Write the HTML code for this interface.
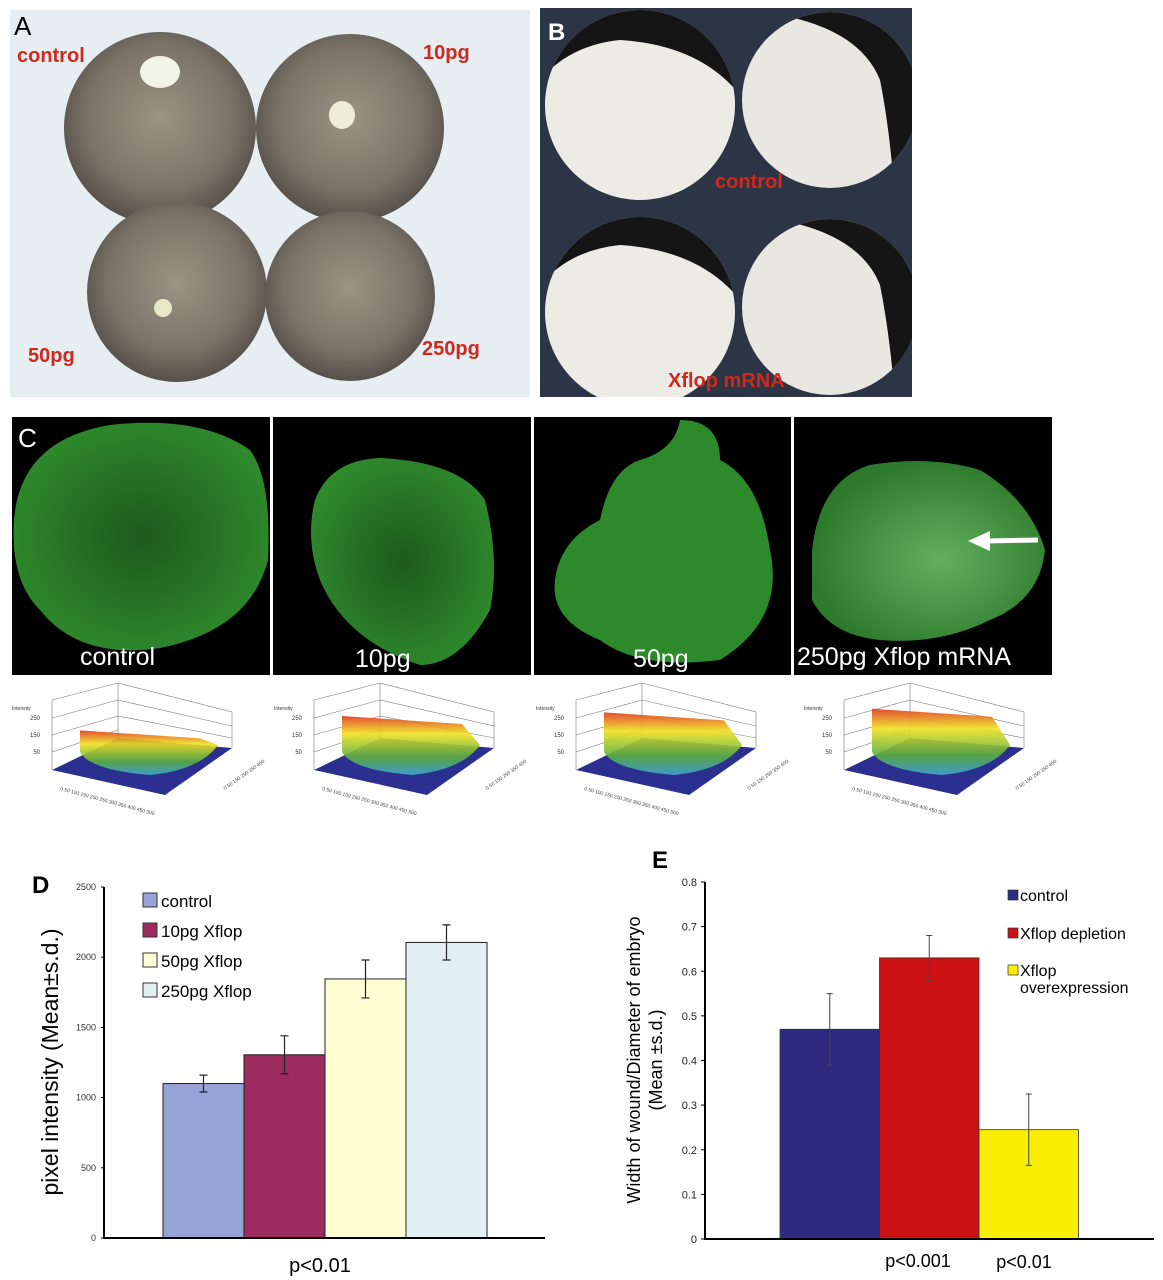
<!DOCTYPE html>
<html><head><meta charset="utf-8"><style>
html,body{margin:0;padding:0;background:#fff;}
svg{display:block;font-family:"Liberation Sans",sans-serif;}
</style></head><body>
<svg id="fig" width="1163" height="1280" viewBox="0 0 1163 1280">
<defs>
<radialGradient id="emb" cx="50%" cy="45%" r="55%"><stop offset="0" stop-color="#9a9486"/><stop offset="0.7" stop-color="#7a7266"/><stop offset="1" stop-color="#55504a"/></radialGradient>
<radialGradient id="gr1" cx="50%" cy="50%" r="55%"><stop offset="0" stop-color="#1c5a1c"/><stop offset="1" stop-color="#2f8a2c"/></radialGradient>
<radialGradient id="gr4" cx="55%" cy="55%" r="55%"><stop offset="0" stop-color="#62b05e"/><stop offset="1" stop-color="#2e7a2c"/></radialGradient>
<linearGradient id="surf" x1="0" y1="0" x2="0" y2="1"><stop offset="0" stop-color="#e03a1a"/><stop offset="0.3" stop-color="#f0e020"/><stop offset="0.7" stop-color="#5ab040"/><stop offset="1" stop-color="#40a8d0"/></linearGradient>
<clipPath id="clipB"><rect x="540" y="8" width="372" height="389"/></clipPath>
<clipPath id="cb1"><circle cx="640" cy="105" r="95"/></clipPath>
<clipPath id="cb2"><circle cx="830" cy="100" r="88"/></clipPath>
<clipPath id="cb3"><circle cx="640" cy="312" r="95"/></clipPath>
<clipPath id="cb4"><circle cx="830" cy="307" r="88"/></clipPath>
</defs>

<!-- Panel A -->
<g>
<rect x="10" y="10" width="520" height="387" fill="#e7eef2"/>
<circle cx="160" cy="128" r="96" fill="url(#emb)"/>
<circle cx="350" cy="128" r="94" fill="url(#emb)"/>
<circle cx="177" cy="292" r="90" fill="url(#emb)"/>
<circle cx="350" cy="296" r="85" fill="url(#emb)"/>
<ellipse cx="160" cy="72" rx="20" ry="16" fill="#f2f4e8"/>
<ellipse cx="342" cy="115" rx="13" ry="14" fill="#eeeed8"/>
<ellipse cx="163" cy="308" rx="9" ry="9" fill="#e6e8c8"/>
<text x="14" y="35" font-size="26" fill="#000">A</text>
<g font-size="20" font-weight="bold" fill="#d0281c">
<text x="17" y="62">control</text>
<text x="423" y="59">10pg</text>
<text x="28" y="362">50pg</text>
<text x="422" y="355">250pg</text>
</g></g>

<!-- Panel B -->
<g>
<rect x="540" y="8" width="372" height="389" fill="#2c3545"/>
<g clip-path="url(#clipB)">
<circle cx="640" cy="105" r="95" fill="#ecebe6"/>
<path clip-path="url(#cb1)" d="M540 0 H740 V95 Q700 45 620 40 Q570 45 540 80Z" fill="#151515"/>
<circle cx="830" cy="100" r="88" fill="#e8e7e2"/>
<path clip-path="url(#cb2)" d="M760 0 H920 V200 H895 Q890 130 880 80 Q860 30 780 15Z" fill="#151515"/>
<circle cx="640" cy="312" r="95" fill="#ecebe6"/>
<path clip-path="url(#cb3)" d="M540 200 H740 V300 Q700 250 620 245 Q570 250 540 285Z" fill="#151515"/>
<circle cx="830" cy="307" r="88" fill="#e8e7e2"/>
<path clip-path="url(#cb4)" d="M760 200 H920 V400 H895 Q890 335 880 285 Q860 235 780 220Z" fill="#151515"/>
</g>
<text x="548" y="40" font-size="24" font-weight="bold" fill="#fff">B</text>
<text x="715" y="188" font-size="20" font-weight="bold" fill="#d0281c">control</text>
<text x="668" y="387" font-size="20" font-weight="bold" fill="#d0281c">Xflop mRNA</text>
</g>

<!-- Panel C -->
<g>
<rect x="12" y="417" width="258" height="258" fill="#000"/>
<rect x="273" y="417" width="258" height="258" fill="#000"/>
<rect x="534" y="417" width="257" height="258" fill="#000"/>
<rect x="794" y="417" width="258" height="258" fill="#000"/>
<path d="M14 520 Q20 440 110 425 Q200 415 250 450 Q272 480 268 560 Q250 630 160 648 Q80 660 40 610 Q10 580 14 520Z" fill="url(#gr1)"/>
<path d="M315 500 Q330 460 380 458 Q460 462 485 500 Q500 560 490 610 Q460 665 420 665 Q345 640 320 580 Q305 540 315 500Z" fill="url(#gr1)"/>
<path d="M555 580 Q560 540 600 520 Q610 470 640 460 Q675 450 680 420 Q720 420 720 460 Q760 480 770 550 Q785 620 720 660 Q640 670 600 640 Q550 620 555 580Z" fill="#2c8a2a"/>
<path d="M812 550 Q820 480 870 465 Q930 455 980 470 Q1030 500 1045 550 Q1040 600 990 620 Q940 645 880 640 Q830 635 812 600Z" fill="url(#gr4)"/>
<line x1="1038" y1="540" x2="985" y2="541" stroke="#fff" stroke-width="5"/>
<polygon points="968,541 990,531 990,551" fill="#fff"/>
<text x="18" y="447" font-size="26" fill="#fff">C</text>
<g font-size="25" fill="#fff">
<text x="80" y="665">control</text>
<text x="355" y="667">10pg</text>
<text x="633" y="667">50pg</text>
<text x="797" y="665">250pg Xflop mRNA</text>
</g></g>

<g id="surfaces"></g>

<!-- Panel D -->
<g id="chartD">
<text x="32" y="893" font-size="24" font-weight="bold">D</text>
<text transform="translate(58,1062) rotate(-90)" font-size="23" text-anchor="middle">pixel intensity (Mean±s.d.)</text>
<text x="320" y="1272" font-size="20" text-anchor="middle">p&lt;0.01</text>
</g>
<!-- Panel E -->
<g id="chartE">
<text x="652" y="868" font-size="24" font-weight="bold">E</text>
<text transform="translate(640,1060) rotate(-90)" font-size="18" text-anchor="middle">Width of wound/Diameter of embryo</text>
<text transform="translate(662,1060) rotate(-90)" font-size="18" text-anchor="middle">(Mean ±s.d.)</text>
<text x="918" y="1267" font-size="18" text-anchor="middle">p&lt;0.001</text>
<text x="1024" y="1268" font-size="18" text-anchor="middle">p&lt;0.01</text>
</g>
</svg>
<script>
var NS='http://www.w3.org/2000/svg';
var dCategories=['control','10pg Xflop','50pg Xflop','250pg Xflop'];
var dValues=[1100,1305,1845,2105];
var dErrors=[60,135,135,125];
var dTicks=[0,500,1000,1500,2000,2500];
var dColors=['#97a3d6','#9c2b5f','#ffffd4','#e2f0f2'];
var eCategories=['control','Xflop depletion','Xflop overexpression'];
var eValues=[0.47,0.63,0.245];
var eErrors=[0.08,0.05,0.08];
var eTicks=[0,0.1,0.2,0.3,0.4,0.5,0.6,0.7,0.8];
var eColors=['#2e2a80','#cc1114','#f8ee00'];
var surfPeaks=[0.55,0.75,0.8,0.85];

function mk(tag,attrs,parent){var e=document.createElementNS(NS,tag);for(var k in attrs)e.setAttribute(k,attrs[k]);parent.appendChild(e);return e;}

// Chart D
(function(){
var g=document.getElementById('chartD');
var x0=104,x1=545,yb=1238,yt=887,max=2500;
function ys(v){return yb-(v/max)*(yb-yt);}
var bx0=163,bw=81;
function xs(i){return bx0+i*bw;}
dTicks.forEach(function(t){
 var tx=mk('text',{x:x0-8,y:ys(t)+3,'font-size':9,'text-anchor':'end',fill:'#333'},g);tx.textContent=t;
 
 
});
dValues.forEach(function(v,i){
 var r=mk('rect',{x:xs(i),y:ys(v),width:bw,height:yb-ys(v),fill:dColors[i],stroke:'#222','stroke-width':1},g);
 
 
 var cx=xs(i)+bw/2;
 var eb=mk('path',{d:'M'+cx+' '+ys(v+dErrors[i])+'V'+ys(v-dErrors[i])+'M'+(cx-4)+' '+ys(v+dErrors[i])+'h8M'+(cx-4)+' '+ys(v-dErrors[i])+'h8',stroke:'#222','stroke-width':1.2,fill:'none'},g);
 
 
 var ly=893+i*30;
 var sq=mk('rect',{x:143,y:ly,width:14,height:14,fill:dColors[i],stroke:'#333'},g);
 
 
 var lt=mk('text',{x:161,y:ly+14,'font-size':17},g);lt.textContent=dCategories[i];
 
 
});
var ax=mk('path',{d:'M'+x0+' '+yt+'V'+yb+'H'+x1,stroke:'#000','stroke-width':2,fill:'none'},g);


dTicks.forEach(function(t){mk('line',{x1:x0-3,x2:x0,y1:ys(t),y2:ys(t),stroke:'#000'},g);});
})();

// Chart E
(function(){
var g=document.getElementById('chartE');
var x0=705,x1=1154,yb=1239,yt=882,max=0.8;
function ys(v){return yb-(v/max)*(yb-yt);}
var bx0=780,bw=99.5;
function xs(i){return bx0+i*bw;}
eTicks.forEach(function(t){
 var tx=mk('text',{x:x0-8,y:ys(t)+4,'font-size':11,'text-anchor':'end',fill:'#222'},g);tx.textContent=(t===0?'0':t.toFixed(1));
 
 
 mk('line',{x1:x0-4,x2:x0,y1:ys(t),y2:ys(t),stroke:'#000'},g);
});
eValues.forEach(function(v,i){
 var r=mk('rect',{x:xs(i),y:ys(v),width:bw,height:yb-ys(v),fill:eColors[i],stroke:'#333','stroke-width':0.8},g);
 
 
 var cx=xs(i)+bw/2;
 var eb=mk('path',{d:'M'+cx+' '+ys(v+eErrors[i])+'V'+ys(v-eErrors[i])+'M'+(cx-3)+' '+ys(v+eErrors[i])+'h6M'+(cx-3)+' '+ys(v-eErrors[i])+'h6',stroke:'#444','stroke-width':1,fill:'none'},g);
 
 
 var ly=[890,928,965][i];
 var sq=mk('rect',{x:1008,y:ly,width:10,height:10,fill:eColors[i],stroke:'#333','stroke-width':0.7},g);
 
 
 var lbl=i===2?['Xflop','overexpression']:[eCategories[i]];
 lbl.forEach(function(s,j){
  var lt=mk('text',{x:1020,y:ly+11+j*17,'font-size':16},g);lt.textContent=s;
  
  
 });
});
var ax=mk('path',{d:'M'+x0+' '+yt+'V'+yb+'H'+x1,stroke:'#000','stroke-width':2,fill:'none'},g);


})();

// Surface plots
(function(){
var g=document.getElementById('surfaces');
[0,262,524,792].forEach(function(ox,i){
 var s=mk('g',{transform:'translate('+ox+',0)'},g);
 
 
 mk('path',{d:'M52 700 L118 683 L232 712 L232 748 M52 700 L52 770 M118 683 L118 738 M52 718 L118 700 L232 726 M52 735 L118 716 L232 738 M52 752 L118 730',stroke:'#777','stroke-width':0.6,fill:'none'},s);
 mk('polygon',{points:'52,770 118,738 232,748 165,795',fill:'#2b2f8f'},s);
 var top=770-(surfPeaks[i])*72;
 mk('path',{d:'M80 '+top+' L200 '+(top+8)+' L218 745 Q200 770 150 775 Q90 770 80 752Z',fill:'url(#surf)',opacity:0.9},s);
 var lab=mk('text',{x:12,y:710,'font-size':5,fill:'#333'},s);lab.textContent='Intensity';
 ['250','150','50'].forEach(function(t,k){var tt=mk('text',{x:40,y:720+k*17,'font-size':6,'text-anchor':'end',fill:'#333'},s);tt.textContent=t;});
 var xl=mk('text',{x:60,y:790,'font-size':5,fill:'#444',transform:'rotate(15 60 790)'},s);xl.textContent='0 50 100 150 200 250 300 350 400 450 500';
 var yl=mk('text',{x:225,y:790,'font-size':5,fill:'#444',transform:'rotate(-35 225 790)'},s);yl.textContent='0 50 150 250 350 450';
});
})();
</script>
</body></html>
